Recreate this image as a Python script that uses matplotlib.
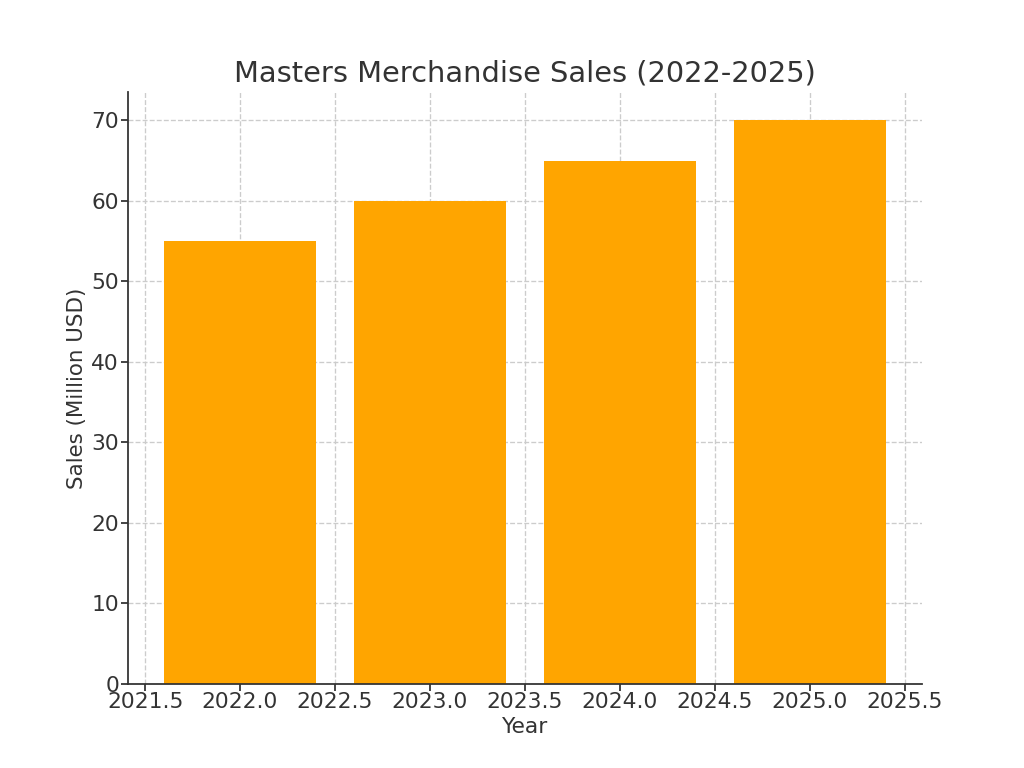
import matplotlib
matplotlib.use("Agg")
import matplotlib.pyplot as plt

# ===== DATA =====
years = [2022, 2023, 2024, 2025]
sales = [55, 60, 65, 70]

TEXT = "#333333"
plt.rcParams["font.family"] = ["DejaVu Sans"]
plt.rcParams["text.color"] = TEXT
plt.rcParams["axes.labelcolor"] = TEXT
plt.rcParams["xtick.color"] = TEXT
plt.rcParams["ytick.color"] = TEXT
plt.rcParams["axes.edgecolor"] = TEXT

fig, ax = plt.subplots(figsize=(6.4, 4.8), dpi=160)
ax.bar(years, sales, color="#FFA500", width=0.8)

ax.set_title("Masters Merchandise Sales (2022-2025)", fontsize=13, pad=5)
ax.set_xlabel("Year", fontsize=9.8, labelpad=2)
ax.set_ylabel("Sales (Million USD)", fontsize=9.6, labelpad=2)
ax.tick_params(axis="both", labelsize=9.8, length=3, pad=1)

ax.grid(True, linestyle="--", color="#cccccc", linewidth=0.6)
ax.set_axisbelow(True)
ax.spines["top"].set_visible(False)
ax.spines["right"].set_visible(False)

plt.savefig("out.png", dpi=160)
plt.close()
